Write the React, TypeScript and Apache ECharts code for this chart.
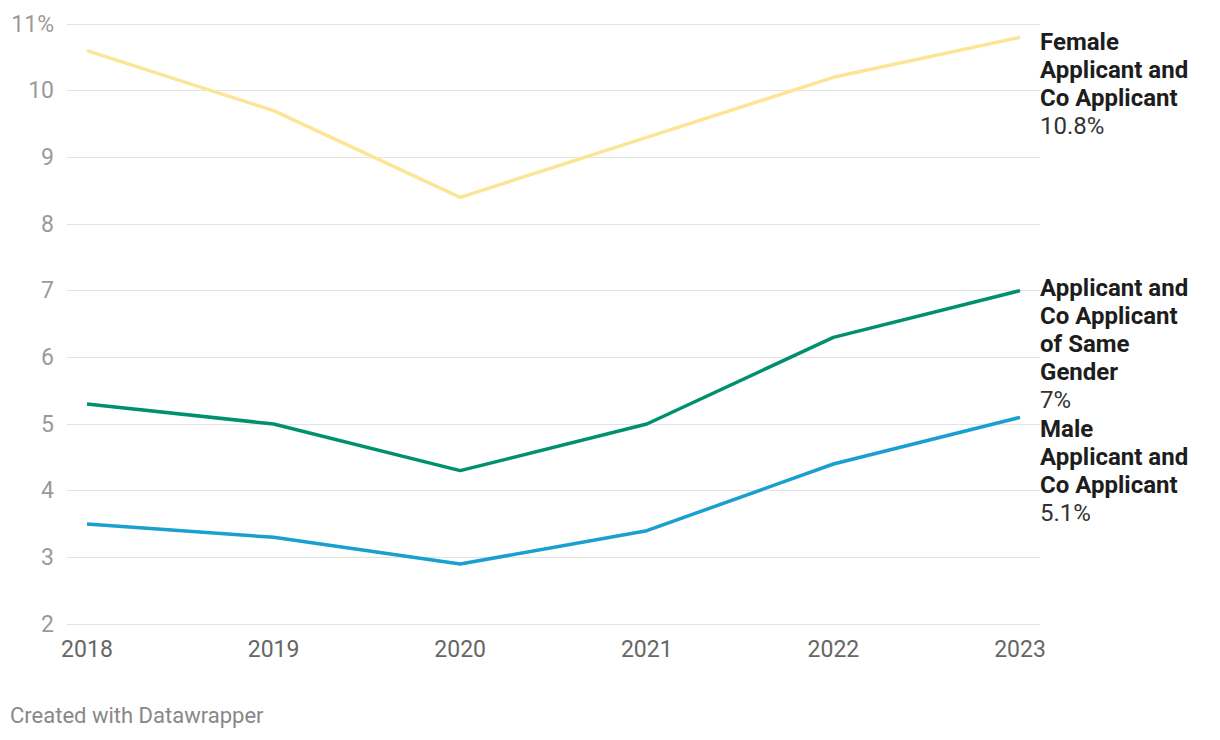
import React, { useEffect, useRef } from "react";
import * as echarts from "echarts";

const years = [2018, 2019, 2020, 2021, 2022, 2023];
const female = [10.6, 9.7, 8.4, 9.3, 10.2, 10.8];
const sameGender = [5.3, 5.0, 4.3, 5.0, 6.3, 7.0];
const male = [3.5, 3.3, 2.9, 3.4, 4.4, 5.1];
const seriesNames = [
  "Female\nApplicant and\nCo Applicant",
  "Applicant and\nCo Applicant\nof Same\nGender",
  "Male\nApplicant and\nCo Applicant",
];
const seriesColors = ["#fde597", "#00906e", "#199fd0"];
const yTicks = [2, 3, 4, 5, 6, 7, 8, 9, 10, 11];

const FONT = "Roboto, 'Noto Sans', sans-serif";

export default function App() {
  const ref = useRef<HTMLDivElement>(null);
  useEffect(() => {
    if (!ref.current) return;
    const chart = echarts.init(ref.current, null, { renderer: "svg" });
    const datasets = [female, sameGender, male];
    const offsets = [-9, -17, -2];
    const series = datasets.map((vals, i) => ({
      type: "line",
      name: seriesNames[i],
      data: vals.map((v, j) => [years[j], v]),
      showSymbol: false,
      symbol: "none",
      lineStyle: { color: seriesColors[i], width: 3.5 },
      itemStyle: { color: seriesColors[i] },
      z: 3 - i,
      endLabel: {
        show: true,
        distance: 20,
        verticalAlign: "top",
        offset: [0, offsets[i]],
        formatter: () => {
          const last = vals[vals.length - 1];
          const name = seriesNames[i]
            .split("\n")
            .map((l) => `{b|${l}}`)
            .join("\n");
          return `${name}\n{v|${last}%}`;
        },
        rich: {
          b: {
            fontFamily: FONT,
            fontWeight: "bold",
            fontSize: 24,
            lineHeight: 28,
            color: "#1d1d1d",
          },
          v: {
            fontFamily: FONT,
            fontSize: 24,
            lineHeight: 28,
            color: "#333333",
          },
        },
      },
    }));
    chart.setOption({
      animation: false,
      backgroundColor: "#ffffff",
      grid: { left: 67, right: 180, top: 24, bottom: 116 },
      xAxis: {
        type: "value",
        min: 2017.893,
        max: 2023.107,
        splitLine: { show: false },
        axisLine: { show: false },
        axisTick: { show: false },
        axisLabel: {
          customValues: years,
          formatter: (v: number) => String(Math.round(v)),
          color: "#666666",
          fontSize: 23,
          fontFamily: FONT,
          margin: 14,
        },
      },
      yAxis: {
        type: "value",
        min: 2,
        max: 11,
        interval: 1,
        axisLine: { show: false },
        axisTick: { show: false },
        splitLine: { show: true, lineStyle: { color: "#e3e3e3", width: 1 } },
        axisLabel: {
          customValues: yTicks,
          formatter: (v: number) => (v === 11 ? `${v}%` : String(v)),
          color: "#9a9a9a",
          fontSize: 23,
          fontFamily: FONT,
          margin: 13,
        },
      },
      graphic: [
        {
          type: "text",
          left: 10,
          top: 704,
          style: {
            text: "Created with Datawrapper",
            fill: "#888888",
            fontSize: 22,
            fontFamily: FONT,
          },
        },
      ],
      series,
    });
    return () => chart.dispose();
  }, []);
  return (
    <div
      ref={ref}
      style={{ position: "fixed", left: 0, top: 0, width: 1220, height: 740 }}
    />
  );
}
